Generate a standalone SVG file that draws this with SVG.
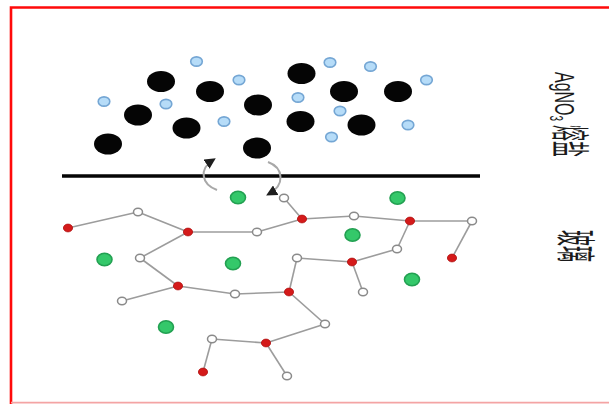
<svg xmlns="http://www.w3.org/2000/svg" width="609" height="404" viewBox="0 0 609 404">
  <style>
    .ag { fill: #050505; }
    .no3 { fill: #b6dcf8; stroke: #74a6d4; stroke-width: 1.6; }
    .na { fill: #34c86a; stroke: #23a052; stroke-width: 1.6; }
    .o { fill: #d41a1a; stroke: #b01010; stroke-width: 0.8; }
    .si { fill: #ffffff; stroke: #8a8a8a; stroke-width: 1.5; }
    .bond { stroke: #9c9c9c; stroke-width: 1.6; fill: none; }
    .swap { stroke: #a8a8a8; stroke-width: 2; fill: none; marker-end: url(#head); }
    .lbl { font-family: "Liberation Sans", "Noto Sans CJK SC", sans-serif; font-size: 16px; fill: #1a1a1a; }
  </style>
  <defs>
    <marker id="head" viewBox="0 0 10 10" refX="7" refY="5" markerWidth="11" markerHeight="11" markerUnits="userSpaceOnUse" orient="auto">
      <path d="M0,0 L10,5 L0,10 Z" fill="#1e1e1e"/>
    </marker>
  </defs>

  <rect width="609" height="404" fill="#ffffff"/>

  <!-- frame -->
  <path d="M11,404 L11,7.5 L609,7.5" fill="none" stroke="#ff0a0a" stroke-width="2.6"/>
  <path d="M11,402.6 L609,402.6" fill="none" stroke="#f4a4a4" stroke-width="1.8"/>

  <!-- molten salt: Ag+ ions -->
  <g id="ag-ions">
    <ellipse class="ag" cx="161" cy="81.5" rx="14" ry="10.5"/>
    <ellipse class="ag" cx="210" cy="91.5" rx="14" ry="10.5"/>
    <ellipse class="ag" cx="301.5" cy="73.5" rx="14" ry="10.5"/>
    <ellipse class="ag" cx="344" cy="91.5" rx="14" ry="10.5"/>
    <ellipse class="ag" cx="398" cy="91.5" rx="14" ry="10.5"/>
    <ellipse class="ag" cx="138" cy="115" rx="14" ry="10.5"/>
    <ellipse class="ag" cx="258" cy="105" rx="14" ry="10.5"/>
    <ellipse class="ag" cx="186.5" cy="128" rx="14" ry="10.5"/>
    <ellipse class="ag" cx="300.5" cy="121.5" rx="14" ry="10.5"/>
    <ellipse class="ag" cx="361.5" cy="125" rx="14" ry="10.5"/>
    <ellipse class="ag" cx="108" cy="144" rx="14" ry="10.5"/>
    <ellipse class="ag" cx="257" cy="148" rx="14" ry="10.5"/>
  </g>

  <!-- molten salt: NO3- ions -->
  <g id="no3-ions">
    <ellipse class="no3" cx="196.5" cy="61.5" rx="5.8" ry="4.6"/>
    <ellipse class="no3" cx="239" cy="80" rx="5.8" ry="4.6"/>
    <ellipse class="no3" cx="104" cy="101.5" rx="5.8" ry="4.6"/>
    <ellipse class="no3" cx="166" cy="104" rx="5.8" ry="4.6"/>
    <ellipse class="no3" cx="224" cy="121.5" rx="5.8" ry="4.6"/>
    <ellipse class="no3" cx="330" cy="62.5" rx="5.8" ry="4.6"/>
    <ellipse class="no3" cx="370.5" cy="66.5" rx="5.8" ry="4.6"/>
    <ellipse class="no3" cx="426.5" cy="80" rx="5.8" ry="4.6"/>
    <ellipse class="no3" cx="298" cy="97.5" rx="5.8" ry="4.6"/>
    <ellipse class="no3" cx="340" cy="111" rx="5.8" ry="4.6"/>
    <ellipse class="no3" cx="408" cy="125" rx="5.8" ry="4.6"/>
    <ellipse class="no3" cx="331.5" cy="137" rx="5.8" ry="4.6"/>
  </g>

  <!-- salt / glass interface -->
  <line id="interface" x1="62" y1="176" x2="480" y2="176" stroke="#050505" stroke-width="3.6"/>

  <!-- ion exchange arrows -->
  <g id="exchange">
    <path class="swap" d="M217,190 C201,184 199,169 213,160"/>
    <path class="swap" d="M268,162 C284,168 285,185 269,194"/>
  </g>

  <!-- glass: Na+ ions -->
  <g id="na-ions">
    <ellipse class="na" cx="238" cy="197.5" rx="7.5" ry="6.3"/>
    <ellipse class="na" cx="397.5" cy="198" rx="7.5" ry="6.3"/>
    <ellipse class="na" cx="352.5" cy="235" rx="7.5" ry="6.3"/>
    <ellipse class="na" cx="104.5" cy="259.5" rx="7.5" ry="6.3"/>
    <ellipse class="na" cx="233" cy="263.5" rx="7.5" ry="6.3"/>
    <ellipse class="na" cx="412" cy="279.5" rx="7.5" ry="6.3"/>
    <ellipse class="na" cx="166" cy="327" rx="7.5" ry="6.3"/>
  </g>

  <!-- glass network bonds -->
  <g id="bonds" class="bond">
    <line x1="68" y1="228" x2="138" y2="212"/>
    <line x1="138" y1="212" x2="188" y2="232"/>
    <line x1="188" y1="232" x2="257" y2="232"/>
    <line x1="188" y1="232" x2="140" y2="258"/>
    <line x1="140" y1="258" x2="178" y2="286"/>
    <line x1="257" y1="232" x2="302" y2="219"/>
    <line x1="302" y1="219" x2="284" y2="198"/>
    <line x1="302" y1="219" x2="354" y2="216"/>
    <line x1="354" y1="216" x2="410" y2="221"/>
    <line x1="410" y1="221" x2="472" y2="221"/>
    <line x1="472" y1="221" x2="452" y2="258"/>
    <line x1="410" y1="221" x2="397" y2="249"/>
    <line x1="397" y1="249" x2="352" y2="262"/>
    <line x1="352" y1="262" x2="297" y2="258"/>
    <line x1="297" y1="258" x2="289" y2="292"/>
    <line x1="352" y1="262" x2="363" y2="292"/>
    <line x1="178" y1="286" x2="122" y2="301"/>
    <line x1="178" y1="286" x2="235" y2="294"/>
    <line x1="235" y1="294" x2="289" y2="292"/>
    <line x1="289" y1="292" x2="325" y2="324"/>
    <line x1="325" y1="324" x2="266" y2="343"/>
    <line x1="266" y1="343" x2="212" y2="339"/>
    <line x1="212" y1="339" x2="203" y2="372"/>
    <line x1="266" y1="343" x2="287" y2="376"/>
  </g>

  <!-- glass network atoms -->
  <g id="o1"><ellipse class="o" cx="68" cy="228" rx="4.6" ry="3.9"/></g>
  <g id="si1"><ellipse class="si" cx="138" cy="212" rx="4.5" ry="3.8"/></g>
  <g id="o2"><ellipse class="o" cx="188" cy="232" rx="4.6" ry="3.9"/></g>
  <g id="si2"><ellipse class="si" cx="257" cy="232" rx="4.5" ry="3.8"/></g>
  <g id="si3"><ellipse class="si" cx="140" cy="258" rx="4.5" ry="3.8"/></g>
  <g id="o3"><ellipse class="o" cx="178" cy="286" rx="4.6" ry="3.9"/></g>
  <g id="si4"><ellipse class="si" cx="284" cy="198" rx="4.5" ry="3.8"/></g>
  <g id="o4"><ellipse class="o" cx="302" cy="219" rx="4.6" ry="3.9"/></g>
  <g id="si5"><ellipse class="si" cx="354" cy="216" rx="4.5" ry="3.8"/></g>
  <g id="o5"><ellipse class="o" cx="410" cy="221" rx="4.6" ry="3.9"/></g>
  <g id="si6"><ellipse class="si" cx="472" cy="221" rx="4.5" ry="3.8"/></g>
  <g id="o6"><ellipse class="o" cx="452" cy="258" rx="4.6" ry="3.9"/></g>
  <g id="si7"><ellipse class="si" cx="397" cy="249" rx="4.5" ry="3.8"/></g>
  <g id="o7"><ellipse class="o" cx="352" cy="262" rx="4.6" ry="3.9"/></g>
  <g id="si8"><ellipse class="si" cx="297" cy="258" rx="4.5" ry="3.8"/></g>
  <g id="o8"><ellipse class="o" cx="289" cy="292" rx="4.6" ry="3.9"/></g>
  <g id="si9"><ellipse class="si" cx="363" cy="292" rx="4.5" ry="3.8"/></g>
  <g id="si10"><ellipse class="si" cx="122" cy="301" rx="4.5" ry="3.8"/></g>
  <g id="si11"><ellipse class="si" cx="235" cy="294" rx="4.5" ry="3.8"/></g>
  <g id="si12"><ellipse class="si" cx="325" cy="324" rx="4.5" ry="3.8"/></g>
  <g id="o9"><ellipse class="o" cx="266" cy="343" rx="4.6" ry="3.9"/></g>
  <g id="si13"><ellipse class="si" cx="212" cy="339" rx="4.5" ry="3.8"/></g>
  <g id="o10"><ellipse class="o" cx="203" cy="372" rx="4.6" ry="3.9"/></g>
  <g id="si14"><ellipse class="si" cx="287" cy="376" rx="4.5" ry="3.8"/></g>

  <!-- side labels, set vertically -->
  <g id="label-salt">
    <text class="lbl" transform="translate(555,72) rotate(90) scale(1,1.75)">AgNO<tspan font-size="10" dy="3">3</tspan></text>
    <text class="lbl" transform="translate(556,125) rotate(90) scale(1,2.4)">熔盐</text>
  </g>
  <g id="label-glass">
    <text class="lbl" transform="translate(561,230) rotate(90) scale(1,2.5)" font-size="16.5">玻璃</text>
  </g>
</svg>
